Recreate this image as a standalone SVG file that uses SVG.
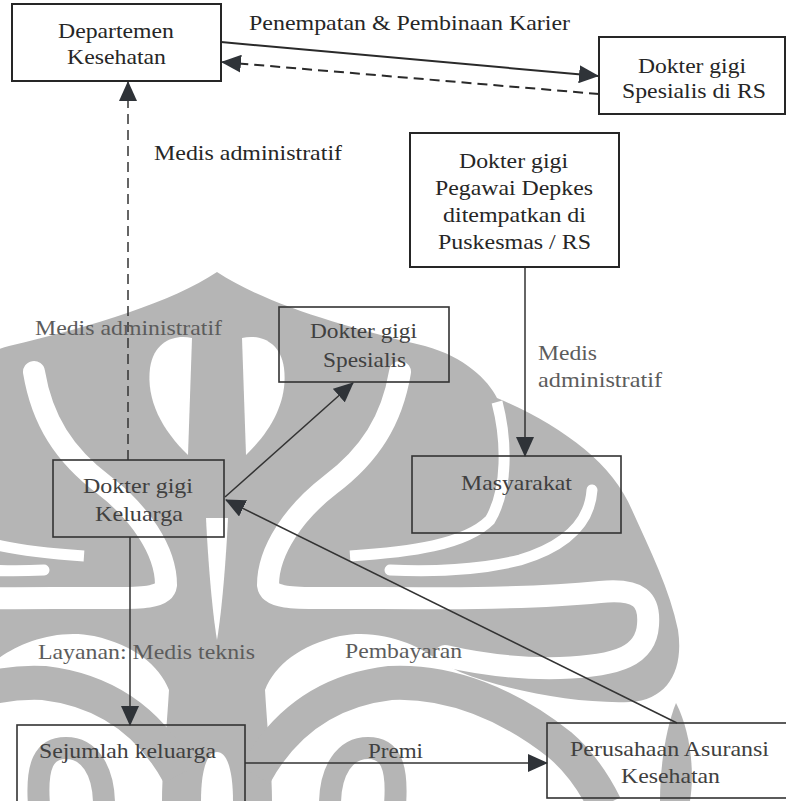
<svg xmlns="http://www.w3.org/2000/svg" xmlns:xlink="http://www.w3.org/1999/xlink" width="786" height="801" viewBox="0 0 786 801">
<style>
text{font-family:'Liberation Serif','DejaVu Serif','Times New Roman',serif;font-size:21px;fill:#262626}
.g{fill:#5c5c5c}
.m{fill:#404040}
.box{fill:none;stroke:#262626;stroke-width:2}
.box2{fill:none;stroke:#333;stroke-width:1.6}
.ln{fill:none;stroke:#2a2a2a;stroke-width:2}
.ln2{fill:none;stroke:#333;stroke-width:1.5}
.dash{stroke-dasharray:10 6}
.wm{fill:#b5b5b5}
.wmS{fill:none;stroke:#b5b5b5}
.wh{fill:#fff}
.whS{fill:none;stroke:#fff}
</style>
<defs>
<marker id="ah" viewBox="0 0 20 18" refX="19" refY="9" markerWidth="20" markerHeight="18" markerUnits="userSpaceOnUse" orient="auto"><path d="M0,0 L20,9 L0,18 Z" fill="#2f3338"/></marker>
<g id="wm-half">
<path class="wm" d="M217,272 C262,302 340,326 425,346 C465,357 488,380 497,398 C560,425 612,462 632,510 C650,550 670,590 678,630 C684,670 668,700 630,702 C580,704 510,692 460,672 L440,662 C420,645 380,628 340,636 C300,645 275,665 265,690 C268,740 272,770 272,801 L217,801 Z"/>
<path class="wh" d="M242,338 C258,334 280,340 284,368 C288,400 272,430 246,455 Z"/>
<path class="wh" d="M217,518 L228,518 C226,560 222,610 217,640 Z"/>
<path class="wh" d="M217,752 C227,752 233,770 233,801 L217,801 Z"/>
<path class="whS" stroke-width="22" stroke-linecap="round" d="M400,372 C392,420 370,455 330,485 C295,512 268,550 268,585 C270,600 300,598 340,598 C420,598 520,600 600,592 C640,588 650,600 648,625 C646,655 620,666 560,668 C520,669 480,664 445,656"/>
<path class="whS" stroke-width="11" d="M497,402 C507,440 508,490 490,520 C465,545 410,552 350,556"/>
<path class="whS" stroke-width="11" stroke-linecap="round" d="M592,490 C590,520 570,545 520,560 C480,570 430,572 390,570"/>
<path class="wmS" stroke-width="34" d="M255,775 C285,720 330,690 390,683 C450,680 510,705 560,745 C580,762 595,785 605,805"/>
<path class="wmS" stroke-width="22" d="M330,805 C330,770 345,748 368,748 C390,748 398,765 395,805"/>
<path class="wm" d="M676,703 C690,730 695,770 690,801 L660,801 C660,770 665,730 676,703 Z"/>
</g>
</defs>
<rect width="786" height="801" fill="#fff"/>
<g id="watermark">
<use xlink:href="#wm-half" href="#wm-half"/>
<use xlink:href="#wm-half" href="#wm-half" transform="translate(434,0) scale(-1,1)"/>
</g>
<g id="connectors">
<path class="ln" d="M221,42 L598,76" marker-end="url(#ah)"/>
<path class="ln dash" d="M599,94 L222,62" marker-end="url(#ah)"/>
<path class="ln2 dash" d="M128,460 L128,82" marker-end="url(#ah)"/>
<path class="ln2" d="M225,497 L353,383" marker-end="url(#ah)"/>
<path class="ln2" d="M525,267 L525,456" marker-end="url(#ah)"/>
<path class="ln2" d="M130,537 L130,725" marker-end="url(#ah)"/>
<path class="ln2" d="M245,763 L547,763" marker-end="url(#ah)"/>
<path class="ln2" d="M677,723 L226,500" marker-end="url(#ah)"/>
</g>
<g id="edge-labels">
<text x="249" y="30" textLength="321" lengthAdjust="spacingAndGlyphs">Penempatan &amp; Pembinaan Karier</text>
<text x="154" y="160" textLength="188" lengthAdjust="spacingAndGlyphs">Medis administratif</text>
<text class="g" x="35" y="335" textLength="187" lengthAdjust="spacingAndGlyphs">Medis administratif</text>
<text class="g" x="538" y="360" textLength="59" lengthAdjust="spacingAndGlyphs">Medis</text>
<text class="g" x="538" y="387" textLength="124" lengthAdjust="spacingAndGlyphs">administratif</text>
<text class="g" x="38" y="659" textLength="217" lengthAdjust="spacingAndGlyphs">Layanan: Medis teknis</text>
<text class="g" x="345" y="658" textLength="117" lengthAdjust="spacingAndGlyphs">Pembayaran</text>
<text class="m" x="368" y="758" textLength="55" lengthAdjust="spacingAndGlyphs">Premi</text>
</g>
<g id="node-depkes">
<rect class="box" x="12" y="4" width="209" height="77"/>
<text x="58" y="38" textLength="116" lengthAdjust="spacingAndGlyphs">Departemen</text>
<text x="67" y="64" textLength="99" lengthAdjust="spacingAndGlyphs">Kesehatan</text>
</g>
<g id="node-spesialis-rs">
<rect class="box" x="599" y="37" width="186" height="77"/>
<text x="638" y="73" textLength="108" lengthAdjust="spacingAndGlyphs">Dokter gigi</text>
<text x="622" y="98" textLength="144" lengthAdjust="spacingAndGlyphs">Spesialis di RS</text>
</g>
<g id="node-pegawai">
<rect class="box" x="410" y="133" width="209" height="134"/>
<text x="459" y="168" textLength="109" lengthAdjust="spacingAndGlyphs">Dokter gigi</text>
<text x="435" y="195" textLength="158" lengthAdjust="spacingAndGlyphs">Pegawai Depkes</text>
<text x="443" y="222" textLength="143" lengthAdjust="spacingAndGlyphs">ditempatkan di</text>
<text x="438" y="249" textLength="153" lengthAdjust="spacingAndGlyphs">Puskesmas / RS</text>
</g>
<g id="node-spesialis">
<rect class="box2" x="279" y="307" width="170" height="75"/>
<text class="m" x="310" y="338" textLength="107" lengthAdjust="spacingAndGlyphs">Dokter gigi</text>
<text class="m" x="323" y="367" textLength="83" lengthAdjust="spacingAndGlyphs">Spesialis</text>
</g>
<g id="node-masyarakat">
<rect class="box2" x="412" y="456" width="209" height="77"/>
<text class="m" x="461" y="490" textLength="111" lengthAdjust="spacingAndGlyphs">Masyarakat</text>
</g>
<g id="node-keluarga">
<rect class="box2" x="53" y="460" width="171" height="77"/>
<text class="m" x="83" y="493" textLength="110" lengthAdjust="spacingAndGlyphs">Dokter gigi</text>
<text class="m" x="95" y="521" textLength="88" lengthAdjust="spacingAndGlyphs">Keluarga</text>
</g>
<g id="node-sejumlah">
<rect class="box2" x="17" y="725" width="228" height="90"/>
<text class="m" x="39" y="758" textLength="177" lengthAdjust="spacingAndGlyphs">Sejumlah keluarga</text>
</g>
<g id="node-asuransi">
<rect class="box2" x="547" y="723" width="250" height="75"/>
<text class="m" x="570" y="756" textLength="199" lengthAdjust="spacingAndGlyphs">Perusahaan Asuransi</text>
<text class="m" x="621" y="783" textLength="99" lengthAdjust="spacingAndGlyphs">Kesehatan</text>
</g>
</svg>
